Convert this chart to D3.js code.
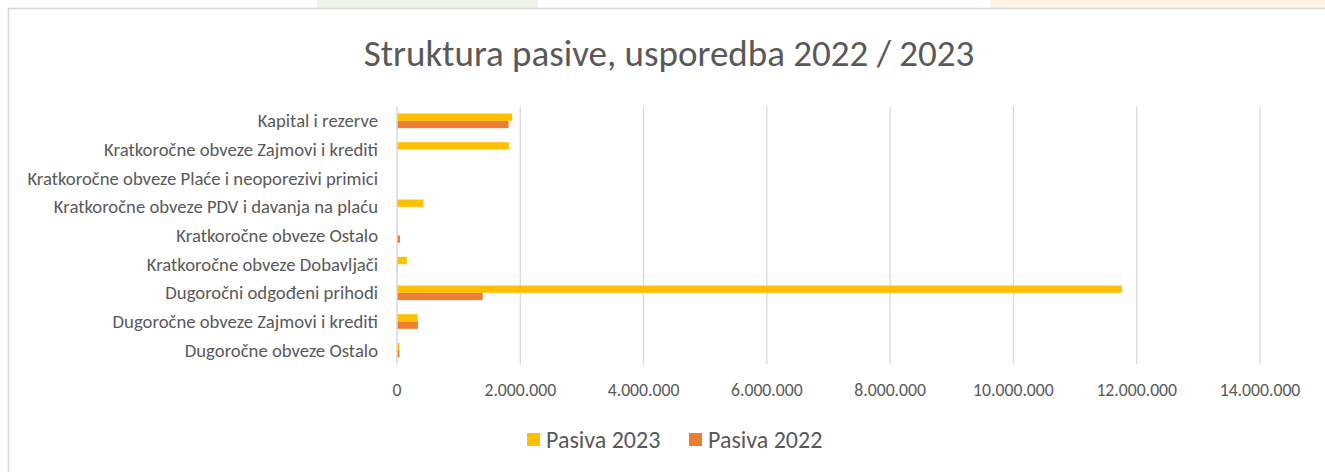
<!DOCTYPE html>
<html>
<head>
<meta charset="utf-8">
<script src="https://cdn.jsdelivr.net/npm/d3@7"></script>
<style>
  html, body { margin: 0; padding: 0; background: #fff; }
  svg { display: block; font-family: Carlito, Calibri, Lato, "Liberation Sans", sans-serif; }
</style>
</head>
<body>
<div id="viz"></div>
<script>
// categories, top to bottom
var categories = [
  "Kapital i rezerve",
  "Kratkoročne obveze Zajmovi i krediti",
  "Kratkoročne obveze Plaće i neoporezivi primici",
  "Kratkoročne obveze PDV i davanja na plaću",
  "Kratkoročne obveze Ostalo",
  "Kratkoročne obveze Dobavljači",
  "Dugoročni odgođeni prihodi",
  "Dugoročne obveze Zajmovi i krediti",
  "Dugoročne obveze Ostalo"
];
var pasiva2023 = [1870000, 1815000, 0, 430000, 8000, 160000, 11760000, 335000, 40000];
var pasiva2022 = [1810000, 0, 0, 0, 50000, 15000, 1390000, 340000, 40000];
var seriesNames = ["Pasiva 2023", "Pasiva 2022"];
var xTicks = [0, 2000000, 4000000, 6000000, 8000000, 10000000, 12000000, 14000000];

var colors = ["#FFC000", "#ED7D31"];
var W = 1325, H = 472;
var margin = {top: 106.5, right: 65, bottom: 107.5, left: 397};
var width = W - margin.left - margin.right,
    height = H - margin.top - margin.bottom;

var svg = d3.select("#viz").append("svg")
    .attr("width", W)
    .attr("height", H);

// faint page background shapes above the chart box
svg.append("rect").attr("x", 317).attr("y", 0).attr("width", 221).attr("height", 9).attr("fill", "#eef5e8");
svg.append("rect").attr("x", 990).attr("y", 0).attr("width", 335).attr("height", 9).attr("fill", "#fdf4e3");

// chart box border
svg.append("rect")
    .attr("x", 8.5).attr("y", 8.5)
    .attr("width", W + 10).attr("height", H + 10)
    .attr("fill", "#fff")
    .attr("stroke", "#d9d9d9")
    .attr("stroke-width", 1.5);

svg.append("text")
    .attr("x", 669).attr("y", 66)
    .attr("text-anchor", "middle")
    .attr("fill", "#595959")
    .style("font-size", "37px")
    .style("font-weight", 300)
    .text("Struktura pasive, usporedba 2022 / 2023");

var g = svg.append("g")
    .attr("transform", "translate(" + margin.left + "," + margin.top + ")");

var x = d3.scaleLinear().domain([0, 14000000]).range([0, width]);
var y = d3.scaleBand().domain(categories).range([0, height]).paddingInner(0.49).paddingOuter(0.245);
var ySub = d3.scaleBand().domain(seriesNames).range([0, y.bandwidth()]);

// gridlines
g.selectAll(".grid")
    .data(xTicks.slice(1))
  .enter().append("line")
    .attr("x1", function(d) { return x(d); })
    .attr("x2", function(d) { return x(d); })
    .attr("y1", 0).attr("y2", height)
    .attr("stroke", "#d9d9d9")
    .attr("stroke-width", 1.3);

// x tick labels
var fmt = function(d) { return d3.format(",")(d).replace(/,/g, "."); };
g.selectAll(".tick-label")
    .data(xTicks)
  .enter().append("text")
    .attr("x", function(d) { return x(d); })
    .attr("y", height + 31)
    .attr("text-anchor", "middle")
    .attr("fill", "#595959")
    .style("font-size", "17.7px")
    .text(fmt);

var series = [pasiva2023, pasiva2022];
series.forEach(function(vals, si) {
  g.selectAll(".bar" + si)
      .data(vals)
    .enter().append("rect")
      .attr("x", x(0))
      .attr("y", function(d, i) { return y(categories[i]) + ySub(seriesNames[si]); })
      .attr("width", function(d) { return x(d) - x(0); })
      .attr("height", ySub.bandwidth())
      .attr("fill", colors[si]);
});

// vertical axis line
g.append("line")
    .attr("x1", 0).attr("x2", 0)
    .attr("y1", 0).attr("y2", height)
    .attr("stroke", "#d9d9d9")
    .attr("stroke-width", 1.5);

// category labels
g.selectAll(".cat")
    .data(categories)
  .enter().append("text")
    .attr("x", -19)
    .attr("y", function(d) { return y(d) + y.bandwidth() / 2; })
    .attr("dy", "0.35em")
    .attr("text-anchor", "end")
    .attr("fill", "#595959")
    .style("font-size", "18.7px")
    .text(function(d) { return d; });

// legend
var legend = svg.append("g").attr("transform", "translate(527,440)");
var lx = [0, 162];
seriesNames.forEach(function(name, i) {
  legend.append("rect")
      .attr("x", lx[i]).attr("y", -7)
      .attr("width", 13).attr("height", 13)
      .attr("fill", colors[i]);
  legend.append("text")
      .attr("x", lx[i] + 19).attr("y", 0)
      .attr("dy", "0.35em")
      .attr("fill", "#595959")
      .style("font-size", "24px")
      .text(name);
});
</script>
</body>
</html>
